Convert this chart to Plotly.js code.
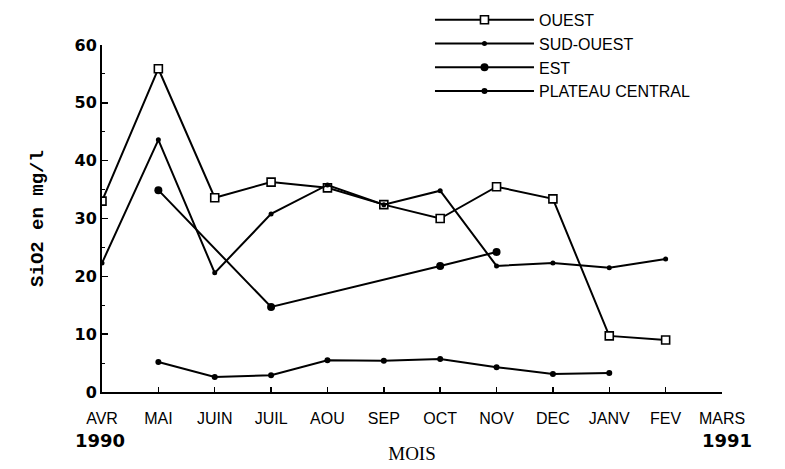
<!DOCTYPE html>
<html>
<head>
<meta charset="utf-8">
<script src="https://cdn.plot.ly/plotly-3.0.1.min.js"></script>
<style>html,body{margin:0;padding:0;background:#fff;}#chart{width:785px;height:469px;}</style>
</head>
<body>
<div id="chart"></div>
<script>
const months = ["AVR","MAI","JUIN","JUIL","AOU","SEP","OCT","NOV","DEC","JANV","FEV","MARS"];
const ouest = [33.0, 55.9, 33.6, 36.3, 35.3, 32.4, 30.0, 35.5, 33.4, 9.7, 9.0, null];
const sudOuest = [22.3, 43.6, 20.6, 30.8, 35.8, 32.4, 34.8, 21.8, 22.3, 21.5, 23.0, null];
const est = [null, 34.9, null, 14.7, null, null, 21.8, 24.2, null, null, null, null];
const plateau = [null, 5.2, 2.6, 2.9, 5.5, 5.4, 5.7, 4.3, 3.1, 3.3, null, null];
const seriesNames = ["OUEST","SUD-OUEST","EST","PLATEAU CENTRAL"];
const yTicks = [0,10,20,30,40,50,60];

const black = "#000";
const traces = [
  {x: months, y: ouest, name: seriesNames[0], mode: "lines+markers", connectgaps: true,
   line: {color: black, width: 2},
   marker: {symbol: "square", size: 8, color: "#fff", line: {color: black, width: 1.6}}},
  {x: months, y: sudOuest, name: seriesNames[1], mode: "lines+markers", connectgaps: true,
   line: {color: black, width: 2}, marker: {symbol: "circle", size: 5, color: black}},
  {x: months, y: est, name: seriesNames[2], mode: "lines+markers", connectgaps: true,
   line: {color: black, width: 2}, marker: {symbol: "circle", size: 8, color: black}},
  {x: months, y: plateau, name: seriesNames[3], mode: "lines+markers", connectgaps: true,
   line: {color: black, width: 2}, marker: {symbol: "circle", size: 6, color: black}}
];

const layout = {
  width: 785, height: 469,
  margin: {l: 102, r: 63, t: 2, b: 77},
  paper_bgcolor: "#fff", plot_bgcolor: "#fff",
  showlegend: true,
  legend: {x: 0.529, y: 0.998, xanchor: "left", yanchor: "top",
    bgcolor: "rgba(0,0,0,0)", itemwidth: 99,
    font: {family: "Liberation Sans, Arial, sans-serif", size: 16, color: black}},
  xaxis: {
    type: "category", categoryorder: "array", categoryarray: months,
    range: [0, 11], showgrid: false, zeroline: false,
    showline: true, linecolor: black, linewidth: 2,
    ticks: "inside", ticklen: 5, tickwidth: 1.5, tickcolor: black,
    ticklabelstandoff: 11,
    tickfont: {family: "Liberation Sans, Arial, sans-serif", size: 16, color: black},
    title: {text: "MOIS", standoff: 20,
      font: {family: "Liberation Serif, Times New Roman, serif", size: 19, color: black}}
  },
  yaxis: {
    domain: [0, 0.8897],
    range: [0, 60], showgrid: false, zeroline: false,
    showline: true, linecolor: black, linewidth: 2,
    tickvals: yTicks, ticktext: yTicks.map(String),
    ticks: "inside", ticklen: 6, tickwidth: 1.5, tickcolor: black,
    minor: {dtick: 5, ticks: "inside", ticklen: 3, tickcolor: black, tickwidth: 1},
    tickfont: {family: "DejaVu Sans, sans-serif", size: 16, color: black, weight: "bold"},
    title: {text: "SiO2 en mg/l", standoff: 26,
      font: {family: "Liberation Mono, Courier New, monospace", size: 19, color: black, weight: "bold"}}
  },
  annotations: [
    {text: "1990", xref: "paper", yref: "paper", x: -0.003, y: -0.1256, showarrow: false,
     xanchor: "center", yanchor: "middle",
     font: {family: "DejaVu Sans, sans-serif", size: 18, color: black, weight: "bold"}},
    {text: "1991", xref: "paper", yref: "paper", x: 1.008, y: -0.1256, showarrow: false,
     xanchor: "center", yanchor: "middle",
     font: {family: "DejaVu Sans, sans-serif", size: 18, color: black, weight: "bold"}}
  ]
};

Plotly.newPlot("chart", traces, layout, {displayModeBar: false, staticPlot: true});
</script>
</body>
</html>
